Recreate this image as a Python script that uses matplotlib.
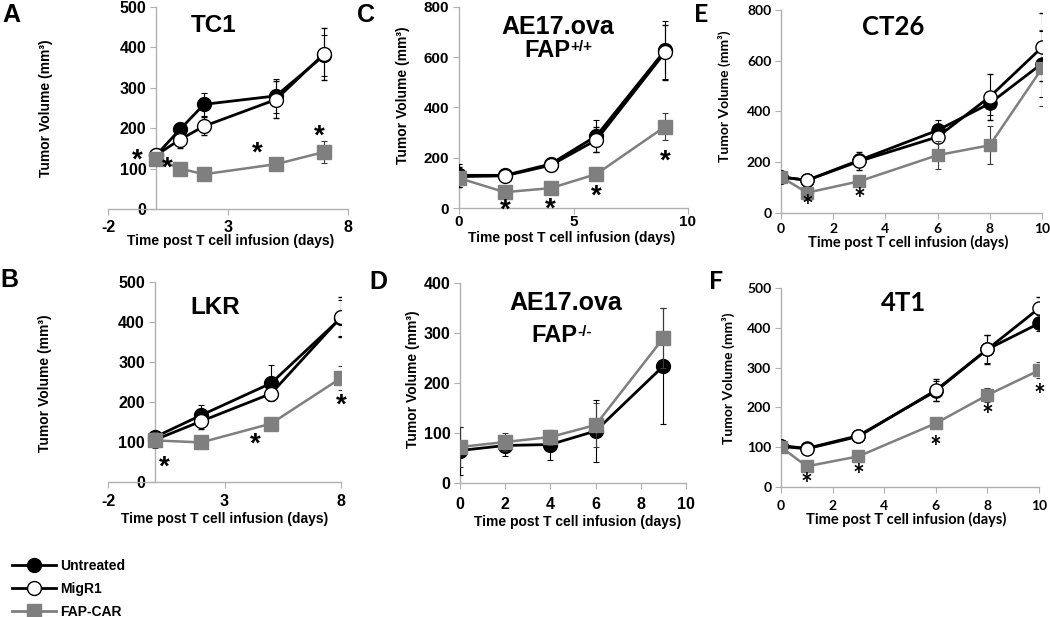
import matplotlib
matplotlib.use("Agg")
import matplotlib.pyplot as plt
from matplotlib.lines import Line2D
from matplotlib.transforms import offset_copy

plt.rcParams["font.family"] = "Liberation Sans"
plt.rcParams["font.weight"] = "bold"
plt.rcParams["axes.unicode_minus"] = False

W, H = 1050, 617

# ---- data ----
tc1_days = [0, 1, 2, 5, 7]
tc1_untreated = [133, 197, 259, 280, 380]
tc1_untreated_err = [10, 15, 28, 42, 50]
tc1_migr1 = [133, 172, 205, 271, 384]
tc1_migr1_err = [10, 20, 22, 45, 65]
tc1_car = [125, 100, 86, 111, 141]
tc1_car_err = [8, 8, 6, 15, 27]
tc1_star_x = [-0.8, 0.45, 4.2, 6.8]
tc1_star_y = [140, 120, 158, 199]

lkr_days = [0, 2, 5, 8]
lkr_untreated = [112, 167, 247, 410]
lkr_untreated_err = [10, 25, 45, 45]
lkr_migr1 = [105, 152, 221, 412]
lkr_migr1_err = [10, 20, 15, 50]
lkr_car = [104, 99, 146, 260]
lkr_car_err = [20, 8, 8, 30]
lkr_star_x = [0.4, 4.3, 8]
lkr_star_y = [57, 114, 210]

aep_days = [0, 2, 4, 6, 9]
aep_untreated = [130, 130, 175, 287, 628]
aep_untreated_err = [45, 15, 25, 65, 115]
aep_migr1 = [125, 128, 170, 271, 620]
aep_migr1_err = [40, 15, 20, 50, 110]
aep_car = [119, 63, 79, 135, 324]
aep_car_err = [10, 8, 8, 10, 55]
aep_star_x = [2, 4, 6, 9]
aep_star_y = [20, 26, 79, 218]

aen_days = [0, 2, 4, 6, 9]
aen_untreated = [65, 75, 77, 104, 234]
aen_untreated_err = [48, 20, 30, 62, 116]
aen_car = [72, 82, 92, 116, 290]
aen_car_err = [40, 18, 15, 44, 60]

ct26_days = [0, 1, 3, 6, 8, 10]
ct26_untreated = [142, 129, 208, 326, 432, 589]
ct26_untreated_err = [10, 10, 20, 40, 45, 130]
ct26_migr1 = [142, 129, 204, 300, 458, 653]
ct26_migr1_err = [10, 10, 35, 50, 90, 134]
ct26_car = [142, 80, 125, 228, 267, 570]
ct26_car_err = [10, 10, 10, 55, 75, 150]
ct26_star_x = [1, 3]
ct26_star_y = [50, 79]

t41_days = [0, 1, 3, 6, 8, 10]
t41_untreated = [104, 97, 129, 241, 346, 411]
t41_untreated_err = [8, 8, 8, 25, 35, 20]
t41_migr1 = [102, 96, 127, 243, 346, 449]
t41_migr1_err = [8, 8, 8, 28, 37, 28]
t41_car = [100, 52, 77, 160, 231, 293]
t41_car_err = [8, 8, 8, 12, 18, 20]
t41_star_x = [1, 3, 6, 8, 10]
t41_star_y = [22, 46, 116, 195, 245]

GRAY = "#7f7f7f"
SPINE = "#b0b0b0"
XLABEL = "Time post T cell infusion (days)"
YLABEL = "Tumor Volume (mm³)"
ARIAL = "Liberation Sans"
CAL = "Lato"

fig = plt.figure(figsize=(W / 100, H / 100), dpi=100)


def make_ax(left, right, bottom, top):
    return fig.add_axes([left / W, 1 - bottom / H, (right - left) / W, (bottom - top) / H])


def style(ax, xlim, ylim, xticks, yticks, fam, tsize, xpad):
    ax.set_xlim(*xlim)
    ax.set_ylim(*ylim)
    ax.set_xticks(xticks)
    ax.set_yticks(yticks)
    for s in ["top", "right"]:
        ax.spines[s].set_visible(False)
    for s in ["left", "bottom"]:
        ax.spines[s].set_color(SPINE)
        ax.spines[s].set_linewidth(1.0)
    ax.tick_params(direction="out", length=4, color=SPINE, labelsize=tsize)
    ax.tick_params(axis="x", pad=xpad)
    ax.tick_params(axis="y", pad=3)
    for lab in ax.get_xticklabels() + ax.get_yticklabels():
        lab.set_family(fam)
        lab.set_weight("bold")
    ax.patch.set_visible(False)


def series(ax, x, y, err, kind, ms):
    if kind == "untreated":
        ax.errorbar(x, y, yerr=err, color="black", lw=2, marker="o", ms=ms,
                    mfc="black", mec="black", ecolor="black", elinewidth=0.8,
                    capsize=2, capthick=0.8, zorder=3)
    elif kind == "migr1":
        ax.errorbar(x, y, yerr=err, color="black", lw=2, marker="o", ms=ms,
                    mfc="white", mec="black", mew=1, ecolor="black", elinewidth=0.8,
                    capsize=2, capthick=0.8, zorder=4)
    else:
        ax.errorbar(x, y, yerr=err, color=GRAY, lw=1.8, marker="s", ms=ms - 0.5,
                    mfc=GRAY, mec=GRAY, ecolor="#3a3a3a", elinewidth=0.8,
                    capsize=2, capthick=0.8, zorder=5)


def labels(ax, fam, xsize, ysize, xl, yl):
    ax.set_xlabel(XLABEL, fontsize=xsize, family=fam, weight="bold")
    ax.set_ylabel(YLABEL, fontsize=ysize, family=fam, weight="bold")
    ax.xaxis.label.set_va("center")
    ax.yaxis.label.set_va("center")
    ax.xaxis.set_label_coords(*xl)
    ax.yaxis.set_label_coords(*yl)


def stars(ax, xs, ys, fam):
    # baseline-anchored and shifted down so the glyph centre sits on (x, y)
    trans = offset_copy(ax.transData, fig=fig, y=-15, units="dots")
    for x, y in zip(xs, ys):
        ax.text(x, y, "*", ha="center", va="baseline", fontsize=20,
                family=fam, weight="bold", zorder=6, transform=trans)


def title(ax, x, y, s, size, fam=ARIAL):
    return ax.text(x, y, s, transform=ax.transAxes, ha="center", va="center",
                   fontsize=size, family=fam, weight="bold")


def fap(ax, x, y, sup):
    t = title(ax, x, y, "FAP", 17)
    ax.annotate(sup, xy=(1.0, 0.93), xycoords=t, ha="left", va="top",
                fontsize=11, weight="bold", family=ARIAL)


# ---- A: TC1 ----
ax = make_ax(108, 348, 209, 7)
series(ax, tc1_days, tc1_untreated, tc1_untreated_err, "untreated", 10)
series(ax, tc1_days, tc1_migr1, tc1_migr1_err, "migr1", 10)
series(ax, tc1_days, tc1_car, tc1_car_err, "car", 10)
style(ax, (-2, 8), (0, 500), [-2, 3, 8], range(0, 501, 100), ARIAL, 11.5, 4)
ax.spines["left"].set_position(("data", 0))
stars(ax, tc1_star_x, tc1_star_y, ARIAL)
labels(ax, ARIAL, 10, 10, (0.51, -0.158), (-0.26, 0.5))
title(ax, 0.44, 0.91, "TC1", 17.5)

# ---- B: LKR ----
ax = make_ax(108, 341, 482, 282)
series(ax, lkr_days, lkr_untreated, lkr_untreated_err, "untreated", 10)
series(ax, lkr_days, lkr_migr1, lkr_migr1_err, "migr1", 10)
series(ax, lkr_days, lkr_car, lkr_car_err, "car", 10)
style(ax, (-2, 8), (0, 500), [-2, 3, 8], range(0, 501, 100), ARIAL, 11.5, 5)
ax.spines["left"].set_position(("data", 0))
stars(ax, lkr_star_x, lkr_star_y, ARIAL)
labels(ax, ARIAL, 10, 10, (0.50, -0.185), (-0.27, 0.495))
title(ax, 0.46, 0.875, "LKR", 17.5)

# ---- C: AE17.ova FAP+/+ ----
ax = make_ax(459, 688, 208, 7)
series(ax, aep_days, aep_untreated, aep_untreated_err, "untreated", 10)
series(ax, aep_days, aep_migr1, aep_migr1_err, "migr1", 10)
series(ax, aep_days, aep_car, aep_car_err, "car", 10)
style(ax, (0, 10), (0, 800), [0, 5, 10], range(0, 801, 200), ARIAL, 11, 1)
stars(ax, aep_star_x, aep_star_y, ARIAL)
labels(ax, ARIAL, 10, 10, (0.49, -0.147), (-0.245, 0.56))
title(ax, 0.43, 0.90, "AE17.ova", 18)
fap(ax, 0.384, 0.786, "+/+")

# ---- D: AE17.ova FAP-/- ----
ax = make_ax(460, 686, 483, 283)
series(ax, aen_days, aen_untreated, aen_untreated_err, "untreated", 10)
series(ax, aen_days, aen_car, aen_car_err, "car", 10)
style(ax, (0, 10), (0, 400), range(0, 11, 2), range(0, 401, 100), ARIAL, 11.5, 6)
labels(ax, ARIAL, 10, 10, (0.52, -0.197), (-0.21, 0.52))
title(ax, 0.47, 0.90, "AE17.ova", 18)
fap(ax, 0.416, 0.74, "-/-")

# ---- E: CT26 ----
ax = make_ax(781, 1042, 213, 10)
series(ax, ct26_days, ct26_untreated, ct26_untreated_err, "untreated", 9.5)
series(ax, ct26_days, ct26_migr1, ct26_migr1_err, "migr1", 9.5)
series(ax, ct26_days, ct26_car, ct26_car_err, "car", 9.5)
style(ax, (0, 10), (0, 800), range(0, 11, 2), range(0, 801, 200), CAL, 10, 3)
stars(ax, ct26_star_x, ct26_star_y, CAL)
labels(ax, CAL, 10.5, 10, (0.487, -0.143), (-0.215, 0.576))
title(ax, 0.43, 0.916, "CT26", 18.5, CAL)

# ---- F: 4T1 ----
ax = make_ax(781, 1039, 487, 288)
series(ax, t41_days, t41_untreated, t41_untreated_err, "untreated", 9.5)
series(ax, t41_days, t41_migr1, t41_migr1_err, "migr1", 9.5)
series(ax, t41_days, t41_car, t41_car_err, "car", 9.5)
style(ax, (0, 10), (0, 500), range(0, 11, 2), range(0, 501, 100), CAL, 10, 5)
stars(ax, t41_star_x, t41_star_y, CAL)
labels(ax, CAL, 10.5, 10, (0.487, -0.165), (-0.205, 0.545))
title(ax, 0.475, 0.925, "4T1", 18.5, CAL)

# ---- panel letters ----
for letter, px, py in [("A", 2, 3), ("B", 0, 268), ("C", 357, 3),
                       ("D", 369, 270), ("E", 694, 3), ("F", 709, 270)]:
    fig.text(px / W, 1 - py / H, letter, ha="left", va="top", fontsize=18,
             family=CAL if letter in "EF" else ARIAL, weight="bold")

# ---- legend ----
handles = [
    Line2D([], [], color="black", lw=2, marker="o", ms=10, mfc="black", mec="black"),
    Line2D([], [], color="black", lw=2, marker="o", ms=10, mfc="white", mec="black"),
    Line2D([], [], color=GRAY, lw=2, marker="s", ms=10, mfc=GRAY, mec=GRAY),
]
fig.legend(handles, ["Untreated", "MigR1", "FAP-CAR"], loc="upper left",
           bbox_to_anchor=(12 / W, 1 - 559 / H), frameon=False, fontsize=10,
           handlelength=3.2, handletextpad=0.3, labelspacing=0.65,
           borderpad=0, borderaxespad=0)

fig.savefig("out.png", dpi=100)
